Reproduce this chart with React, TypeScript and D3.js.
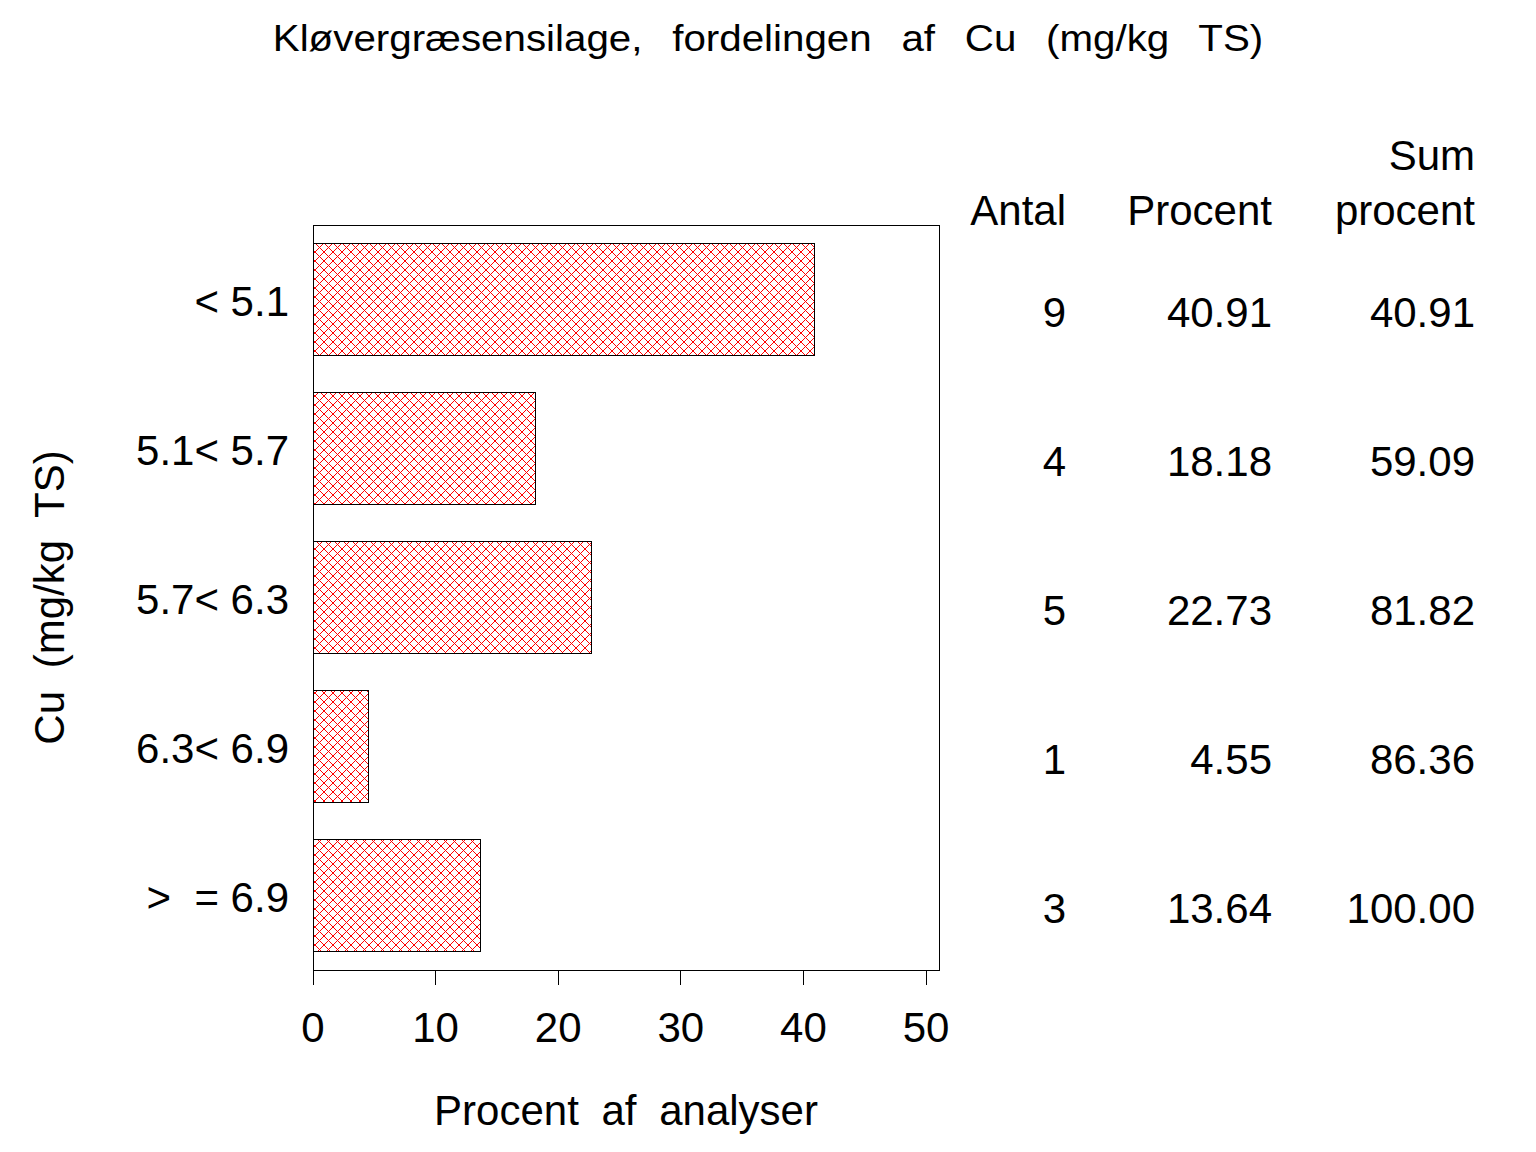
import React from "react";
import * as d3 from "d3";

const categories = ["< 5.1", "5.1< 5.7", "5.7< 6.3", "6.3< 6.9", ">\u00a0\u00a0= 6.9"];
const antal = [9, 4, 5, 1, 3];
const procent = [40.91, 18.18, 22.73, 4.55, 13.64];
const sumProcent = [40.91, 59.09, 81.82, 86.36, 100.0];
const xTicks = [0, 10, 20, 30, 40, 50];

const W = 1536;
const H = 1152;
const FONT = "'Liberation Sans', Arial, Helvetica, sans-serif";

export default function App() {
  const left = 313;
  const frameRight = 939;
  const top = 225;
  const bottom = 970;

  const x = d3.scaleLinear().domain([0, 50]).range([left, 926]);
  const y = d3.scaleBand<string>().domain(categories).range([top, bottom]).padding(0);
  const step = y.bandwidth();
  const barH = 112;
  const off = (step - barH) / 2;

  const cols = [
    { right: 1066, values: antal.map((v) => String(v)), head: ["", "Antal"] },
    { right: 1272, values: procent.map((v) => v.toFixed(2)), head: ["", "Procent"] },
    { right: 1475, values: sumProcent.map((v) => v.toFixed(2)), head: ["Sum", "procent"] },
  ];

  return (
    <svg
      width={W}
      height={H}
      style={{ position: "absolute", left: 0, top: 0, background: "#fff" }}
      fontFamily={FONT}
    >
      <defs>
        <pattern id="hatch" patternUnits="userSpaceOnUse" width={9} height={9}>
          <rect width={9} height={9} fill="#fff" />
          <path d="M0,0 L9,9 M9,0 L0,9" stroke="#ff0000" strokeWidth={1} shapeRendering="crispEdges" />
        </pattern>
      </defs>
      <rect width={W} height={H} fill="#fff" />

      <g transform="translate(768, 51) scale(1.09, 1)">
        <text x={0} y={0} fontSize={37} wordSpacing={17} textAnchor="middle">
          Kløvergræsensilage, fordelingen af Cu (mg/kg TS)
        </text>
      </g>

      {/* frame */}
      <rect
        x={left}
        y={top}
        width={frameRight - left}
        height={bottom - top}
        fill="none"
        stroke="#000"
        strokeWidth={1}
        shapeRendering="crispEdges"
      />

      {/* bars */}
      {categories.map((c, i) => (
        <rect
          key={c}
          x={x(0)}
          y={(y(c) as number) + off}
          width={x(procent[i]) - x(0)}
          height={barH}
          fill="url(#hatch)"
          stroke="#000"
          strokeWidth={1}
          shapeRendering="crispEdges"
        />
      ))}

      {/* category labels */}
      {categories.map((c) => (
        <text
          key={c}
          x={289}
          y={(y(c) as number) + step / 2 + 16}
          fontSize={42}
          textAnchor="end"
        >
          {c}
        </text>
      ))}

      {/* x axis ticks */}
      {xTicks.map((t) => (
        <g key={t}>
          <line x1={x(t)} x2={x(t)} y1={bottom} y2={bottom + 15} stroke="#000" strokeWidth={1} shapeRendering="crispEdges" />
          <text x={x(t)} y={1042} fontSize={42} textAnchor="middle">
            {t}
          </text>
        </g>
      ))}

      <text x={(left + frameRight) / 2} y={1125} fontSize={42} textAnchor="middle" wordSpacing={11}>
        Procent af analyser
      </text>

      <text
        transform={`translate(64, ${(top + bottom) / 2}) rotate(-90)`}
        fontSize={42}
        textAnchor="middle"
        wordSpacing={11}
      >
        Cu (mg/kg TS)
      </text>

      {/* table */}
      {cols.map((col, ci) => (
        <g key={ci}>
          {col.head[0] && (
            <text x={col.right} y={170} fontSize={42} textAnchor="end">
              {col.head[0]}
            </text>
          )}
          <text x={col.right} y={225} fontSize={42} textAnchor="end">
            {col.head[1]}
          </text>
          {col.values.map((v, i) => (
            <text
              key={i}
              x={col.right}
              y={(y(categories[i]) as number) + step / 2 + 27}
              fontSize={42}
              textAnchor="end"
            >
              {v}
            </text>
          ))}
        </g>
      ))}
    </svg>
  );
}
